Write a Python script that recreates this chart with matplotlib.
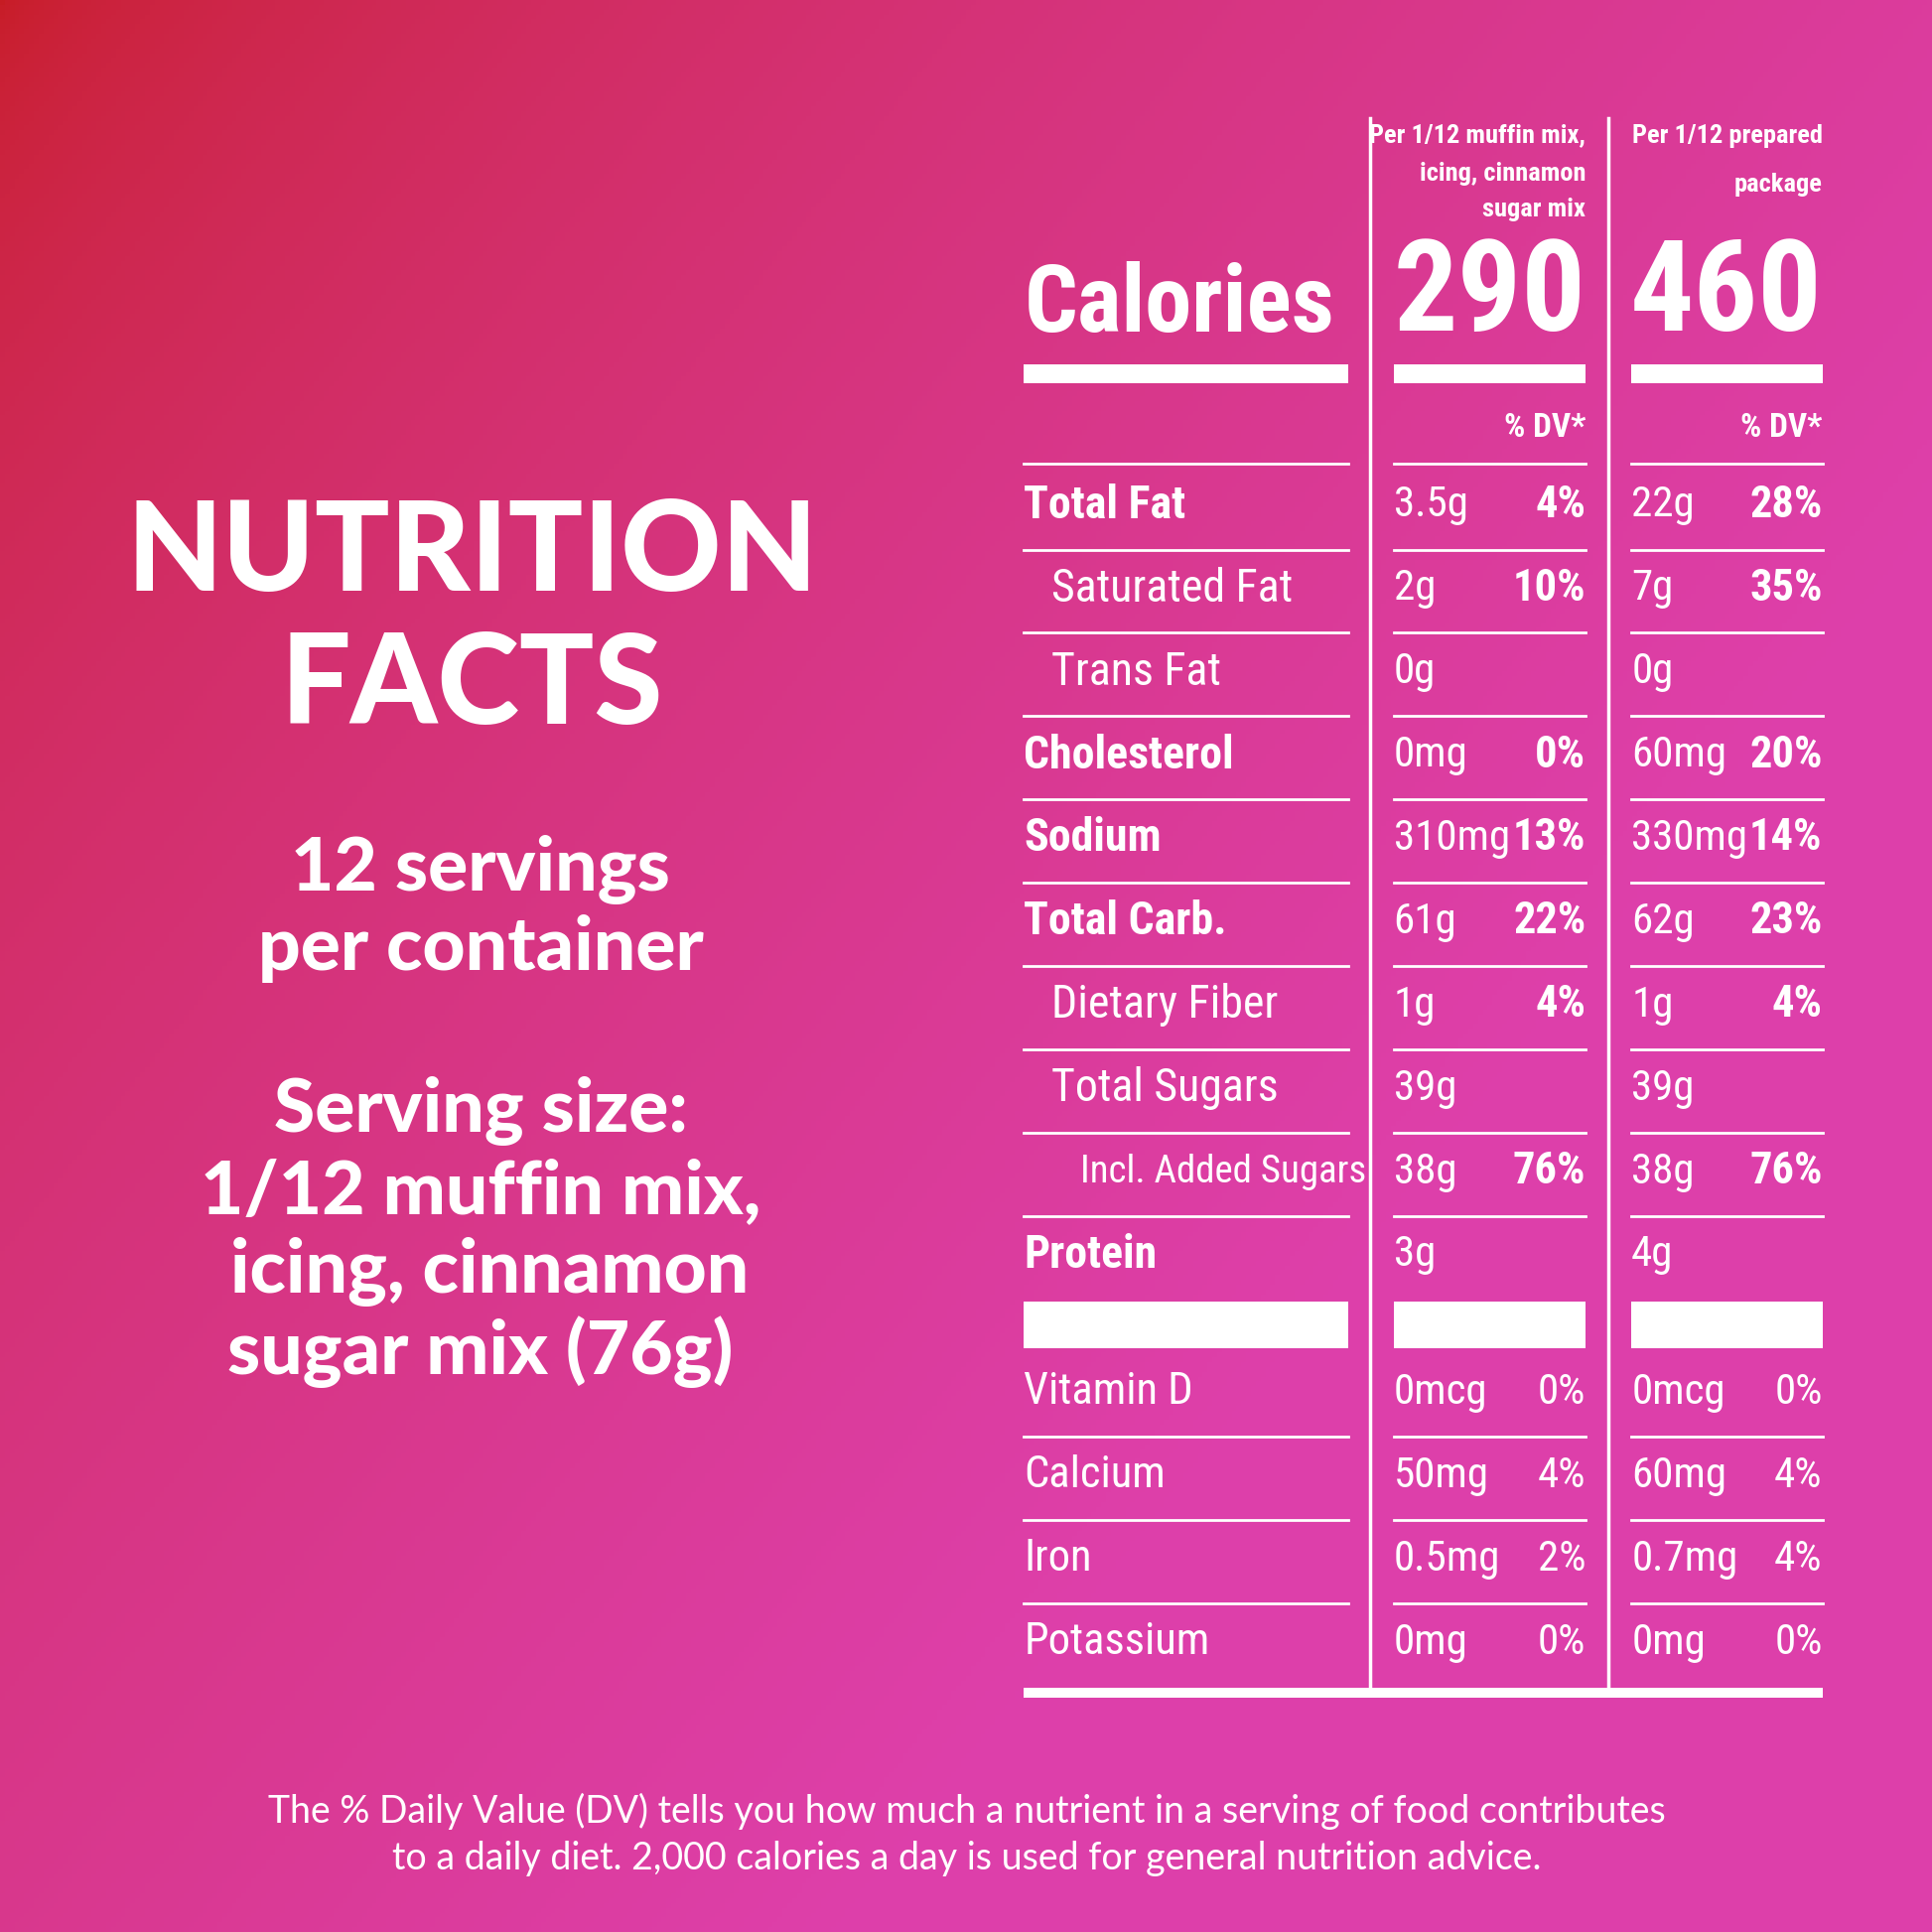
import numpy as np
import matplotlib.pyplot as plt
from matplotlib import font_manager as fm

# narrow font for the table
narrow = 'DejaVu Sans'
for f in ['Roboto Condensed', 'Liberation Sans Narrow', 'DejaVu Sans']:
    try:
        fm.findfont(f, fallback_to_default=False)
        narrow = f
        break
    except Exception:
        pass

labels = ['Total Fat', 'Saturated Fat', 'Trans Fat', 'Cholesterol', 'Sodium', 'Total Carb.',
          'Dietary Fiber', 'Total Sugars', 'Incl. Added Sugars', 'Protein']
indent = [0, 1, 1, 0, 0, 0, 1, 1, 2, 0]
amt1 = ['3.5g', '2g', '0g', '0mg', '310mg', '61g', '1g', '39g', '38g', '3g']
pct1 = ['4%', '10%', '', '0%', '13%', '22%', '4%', '', '76%', '']
amt2 = ['22g', '7g', '0g', '60mg', '330mg', '62g', '1g', '39g', '38g', '4g']
pct2 = ['28%', '35%', '', '20%', '14%', '23%', '4%', '', '76%', '']

vit_labels = ['Vitamin D', 'Calcium', 'Iron', 'Potassium']
vit_amt1 = ['0mcg', '50mg', '0.5mg', '0mg']
vit_pct1 = ['0%', '4%', '2%', '0%']
vit_amt2 = ['0mcg', '60mg', '0.7mg', '0mg']
vit_pct2 = ['0%', '4%', '4%', '0%']

cal1, cal2 = '290', '460'

fig = plt.figure(figsize=(19.46, 19.46), dpi=100)
ax = fig.add_axes([0, 0, 1, 1])
ax.set_xlim(0, 1568)
ax.set_ylim(1568, 0)
ax.axis('off')

# diagonal gradient background
g = np.linspace(0, 1, 400)
X, Y = np.meshgrid(g, g)
t = np.clip((X * 0.9 + Y * 0.7) / 1.1, 0, 1) ** 0.55
c0 = np.array([0.78, 0.11, 0.14])
c1 = np.array([0.87, 0.25, 0.67])
img = c0 + (c1 - c0) * t[..., None]
ax.imshow(img, extent=[0, 1568, 1568, 0], aspect='auto', zorder=0)

W = 'white'
geo = 'Lato'
ax.text(383, 450, 'NUTRITION', color=W, fontsize=90, fontweight='black', family=geo, ha='center', va='center')
ax.text(383, 558, 'FACTS', color=W, fontsize=90, fontweight='black', family=geo, ha='center', va='center')
for y, s in [(706, '12 servings'), (770, 'per container'), (902, 'Serving size:'),
             (967, '1/12 muffin mix,'), (1032, ' icing, cinnamon'), (1097, 'sugar mix (76g)')]:
    ax.text(390, y, s, color=W, fontsize=54, fontweight='black', family=geo, ha='center', va='center')

# table geometry
L0, L1 = 831, 1094
A0, A1 = 1131, 1287
B0, B1 = 1324, 1479
nf = dict(color=W, family=narrow, va='center')

ax.plot([1112, 1112], [96, 1370], color=W, lw=2.5)
ax.plot([1305, 1305], [96, 1370], color=W, lw=2.5)

for y, s in [(110, 'Per 1/12 muffin mix,'), (141, 'icing, cinnamon'), (170, 'sugar mix')]:
    ax.text(A1, y, s, fontsize=19, fontweight='bold', ha='right', **nf)
for y, s in [(110, 'Per 1/12 prepared'), (150, 'package')]:
    ax.text(B1, y, s, fontsize=19, fontweight='bold', ha='right', **nf)

ax.text(L0, 248, 'Calories', fontsize=68, fontweight='bold', ha='left', **nf)
ax.text(A1, 240, cal1, fontsize=92, fontweight='bold', ha='right', **nf)
ax.text(B1, 240, cal2, fontsize=92, fontweight='bold', ha='right', **nf)
for x0, x1 in [(L0, L1), (A0, A1), (B0, B1)]:
    ax.fill_between([x0, x1], 296, 311, color=W, lw=0)
    ax.plot([x0, x1], [376, 376], color=W, lw=2)
ax.text(A1, 347, '% DV*', fontsize=24, fontweight='bold', ha='right', **nf)
ax.text(B1, 347, '% DV*', fontsize=24, fontweight='bold', ha='right', **nf)

row_h = 67.6
for i, lab in enumerate(labels):
    y = 410 + i * row_h
    bold = indent[i] == 0
    ax.text(L0 + 22 * indent[i] + (2 if indent[i] == 2 else 0), y, lab, fontsize=33 if indent[i] < 2 else 28,
            fontweight='bold' if bold else 'normal', ha='left', **nf)
    ax.text(A0, y, amt1[i], fontsize=31, ha='left', **nf)
    ax.text(A1, y, pct1[i], fontsize=32, fontweight='bold', ha='right', **nf)
    ax.text(B0, y, amt2[i], fontsize=31, ha='left', **nf)
    ax.text(B1, y, pct2[i], fontsize=32, fontweight='bold', ha='right', **nf)
    if i < len(labels) - 1:
        yl = y + 36
        for x0, x1 in [(L0, L1), (A0, A1), (B0, B1)]:
            ax.plot([x0, x1], [yl, yl], color=W, lw=2)

for x0, x1 in [(L0, L1), (A0, A1), (B0, B1)]:
    ax.fill_between([x0, x1], 1056, 1094, color=W, lw=0)

for i, lab in enumerate(vit_labels):
    y = 1130 + i * 67.6
    ax.text(L0, y, lab, fontsize=32, ha='left', **nf)
    ax.text(A0, y, vit_amt1[i], fontsize=31, ha='left', **nf)
    ax.text(A1, y, vit_pct1[i], fontsize=31, ha='right', **nf)
    ax.text(B0, y, vit_amt2[i], fontsize=31, ha='left', **nf)
    ax.text(B1, y, vit_pct2[i], fontsize=31, ha='right', **nf)
    if i < len(vit_labels) - 1:
        yl = y + 36
        for x0, x1 in [(L0, L1), (A0, A1), (B0, B1)]:
            ax.plot([x0, x1], [yl, yl], color=W, lw=2)

ax.fill_between([L0, B1], 1370, 1378, color=W, lw=0)

ax.text(785, 1470, 'The % Daily Value (DV) tells you how much a nutrient in a serving of food contributes',
        color=W, fontsize=27, family=geo, ha='center', va='center')
ax.text(785, 1508, 'to a daily diet. 2,000 calories a day is used for general nutrition advice.',
        color=W, fontsize=27, family=geo, ha='center', va='center')

fig.savefig('out.png', dpi=100)
